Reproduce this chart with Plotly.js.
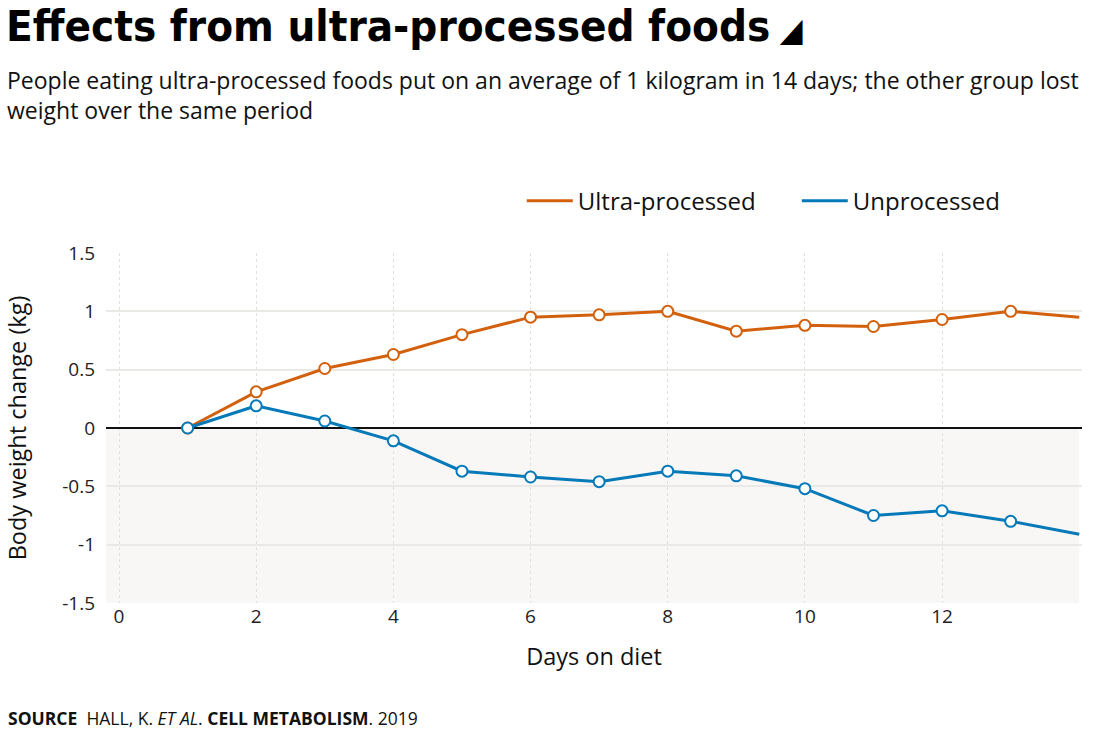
<!DOCTYPE html>
<html>
<head>
<meta charset="utf-8">
<script src="https://cdn.plot.ly/plotly-3.0.1.min.js"></script>
<style>html,body{margin:0;padding:0;background:#fff;}#chart{width:1117px;height:733px;}</style>
</head>
<body>
<div id="chart"></div>
<script>
// ---- data ----
const days = [1, 2, 3, 4, 5, 6, 7, 8, 9, 10, 11, 12, 13, 14];
const ultraProcessed = [0, 0.31, 0.51, 0.63, 0.80, 0.95, 0.97, 1.00, 0.83, 0.88, 0.87, 0.93, 1.00, 0.95];
const unprocessed = [0, 0.19, 0.06, -0.11, -0.37, -0.42, -0.46, -0.37, -0.41, -0.52, -0.75, -0.71, -0.80, -0.91];
const seriesNames = ['Ultra-processed', 'Unprocessed'];
const xTicks = [0, 2, 4, 6, 8, 10, 12];
const yTicks = [-1.5, -1, -0.5, 0, 0.5, 1, 1.5];
const yTickLabels = ['-1.5', '-1', '-0.5', '0', '0.5', '1', '1.5'];

// ---- style ----
const ORANGE = '#d3600d';
const BLUE = '#0679b9';
const FONT = 'Open Sans';
const sizes = days.map((d, i) => (i === days.length - 1 ? 0 : 11));

function series(y, name, color) {
  return {
    x: days, y: y, name: name, type: 'scatter', mode: 'lines+markers',
    line: {color: color, width: 3},
    marker: {size: sizes, color: '#ffffff', opacity: 1, line: {color: color, width: 2}},
    showlegend: false, cliponaxis: false, hoverinfo: 'x+y'
  };
}
function legendItem(name, color) {
  return {x: [null], y: [null], name: name, type: 'scatter', mode: 'lines',
    line: {color: color, width: 3}, showlegend: true};
}

const data = [
  series(ultraProcessed, seriesNames[0], ORANGE),
  series(unprocessed, seriesNames[1], BLUE),
  legendItem(seriesNames[0], ORANGE),
  legendItem(seriesNames[1], BLUE)
];

const layout = {
  width: 1117, height: 733,
  margin: {l: 106, r: 35, t: 253, b: 130, pad: 0},
  paper_bgcolor: '#fff', plot_bgcolor: '#fff',
  font: {family: FONT, color: '#111'},
  title: {
    text: '<b>Effects from ultra-processed foods</b><span style="font-size:33px"> ◢</span>',
    font: {family: 'DejaVu Sans Condensed, DejaVu Sans', size: 43.5, color: '#000'},
    x: 6 / 1117, xanchor: 'left', xref: 'container',
    y: 1 - 26 / 733, yanchor: 'middle', yref: 'container'
  },
  xaxis: {
    range: [-0.19, 14.04], tickvals: xTicks, ticktext: xTicks.map(String),
    showgrid: true, gridcolor: '#e2e0dc', griddash: 'dot', gridwidth: 1,
    zeroline: false, showline: false, ticks: '',
    tickfont: {size: 19, color: '#222', family: FONT},
    title: {text: 'Days on diet', font: {size: 23.5, color: '#111', family: FONT}, standoff: 20},
    fixedrange: true
  },
  yaxis: {
    range: [-1.5, 1.5], tickvals: yTicks, ticktext: yTickLabels,
    showgrid: true, gridcolor: '#ebe9e6', gridwidth: 1.5,
    zeroline: true, zerolinecolor: '#111', zerolinewidth: 1.5,
    showline: false, ticks: '', ticklabelstandoff: 10,
    tickfont: {size: 19, color: '#222', family: FONT},
    title: {text: 'Body weight change (kg)', font: {size: 23.5, color: '#111', family: FONT}, standoff: 28},
    fixedrange: true
  },
  shapes: [{
    type: 'rect', xref: 'x', yref: 'y', x0: -0.19, x1: 14, y0: -1.5, y1: 0,
    fillcolor: '#f8f7f5', line: {width: 0}, layer: 'below'
  }],
  legend: {
    orientation: 'h', x: 0.426, xanchor: 'left', y: 1.148, yanchor: 'middle',
    font: {size: 24, color: '#111', family: FONT},
    itemwidth: 46, entrywidth: 214, entrywidthmode: 'pixels',
    bgcolor: 'rgba(0,0,0,0)', itemclick: false, itemdoubleclick: false
  },
  annotations: [
    {
      text: 'People eating ultra-processed foods put on an average of 1 kilogram in 14 days; the other group lost<br>weight over the same period',
      xref: 'paper', yref: 'paper', x: (5 - 106) / 976, y: (603 - 62) / 350,
      xanchor: 'left', yanchor: 'top', align: 'left', showarrow: false,
      font: {size: 23, color: '#111', family: FONT}
    },
    {
      text: '<b>SOURCE</b>  HALL, K. <i>ET AL</i>. <b>CELL METABOLISM</b>. 2019',
      xref: 'paper', yref: 'paper', x: (6 - 106) / 976, y: (603 - 718) / 350,
      xanchor: 'left', yanchor: 'middle', align: 'left', showarrow: false,
      font: {size: 17.5, color: '#111', family: FONT}
    }
  ],
  showlegend: true,
  hovermode: 'closest'
};

Plotly.newPlot('chart', data, layout, {displayModeBar: false});
</script>
</body>
</html>
